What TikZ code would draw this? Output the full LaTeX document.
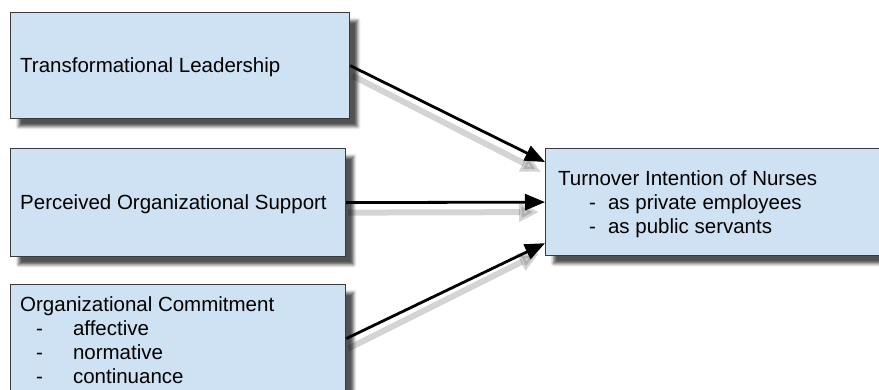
\documentclass[tikz,border=0pt]{standalone}
\usepackage{fontspec}
\setmainfont{Liberation Sans}
\usetikzlibrary{arrows.meta,shadows.blur,backgrounds}
\definecolor{boxfill}{HTML}{CFE2F3}
\definecolor{boxline}{HTML}{3A3A3A}
\tikzset{
  box/.style={draw=boxline, line width=1.2pt, fill=boxfill, rectangle,
    anchor=north west, inner sep=0pt,
    blur shadow={shadow xshift=8pt, shadow yshift=-8pt,
      shadow blur radius=3pt, shadow opacity=68}},
  txt/.style={anchor=west, align=left, inner sep=0pt,
    font=\fontsize{20.5pt}{24pt}\selectfont},
  link/.style={line width=2.8pt, -{Triangle[length=20pt,width=16pt]}},
  linkshadow/.style={line width=6pt, black, opacity=0.17,
    -{Triangle[length=20pt,width=18pt]}},
}
\begin{document}
\begin{tikzpicture}[x=1pt,y=-1pt]
\useasboundingbox (0,0) rectangle (879,389);
\clip (0,0) rectangle (879,389);
\node[box, minimum width=339pt, minimum height=106pt] (b1) at (10,12) {};
\node[box, minimum width=335pt, minimum height=108pt] (b2) at (10,148) {};
\node[box, minimum width=335pt, minimum height=108pt] (b3) at (10,284) {};
\node[box, minimum width=340pt, minimum height=107pt] (b4) at (545,148) {};
\node[txt] (t1) at ([xshift=10pt,yshift=-2pt]b1.west) {Transformational Leadership};
\node[txt] (t2) at ([xshift=10pt,yshift=-2pt]b2.west) {Perceived Organizational Support};
\node[txt] (t3) at ([xshift=10pt,yshift=-2pt]b3.west) {Organizational Commitment\\
\hspace*{16pt}-\hspace*{30pt}affective\\
\hspace*{16pt}-\hspace*{30pt}normative\\
\hspace*{16pt}-\hspace*{30pt}continuance};
\node[txt] (t4) at ([xshift=13pt,yshift=-2pt]b4.west) {Turnover Intention of Nurses\\
\hspace*{31pt}-\hspace*{12pt}as private employees\\
\hspace*{31pt}-\hspace*{12pt}as public servants};
\coordinate (e1) at ([yshift=-14pt]b4.north west);
\coordinate (e3) at ([yshift=13pt]b4.south west);
\begin{scope}[on background layer]
  \draw[linkshadow] ([shift={(2pt,-10pt)}]b1.east) -- ([shift={(-4pt,-10pt)}]e1);
  \draw[linkshadow] ([shift={(2pt,-10pt)}]b2.east) -- ([shift={(-6pt,-10pt)}]b4.west);
  \draw[linkshadow] ([shift={(2pt,-10pt)}]b3.east) -- ([shift={(-6pt,-10pt)}]e3);
\end{scope}
\draw[link] (b1.east) -- (e1);
\draw[link] (b2.east) -- (b4.west);
\draw[link] (b3.east) -- (e3);
\end{tikzpicture}
\end{document}
